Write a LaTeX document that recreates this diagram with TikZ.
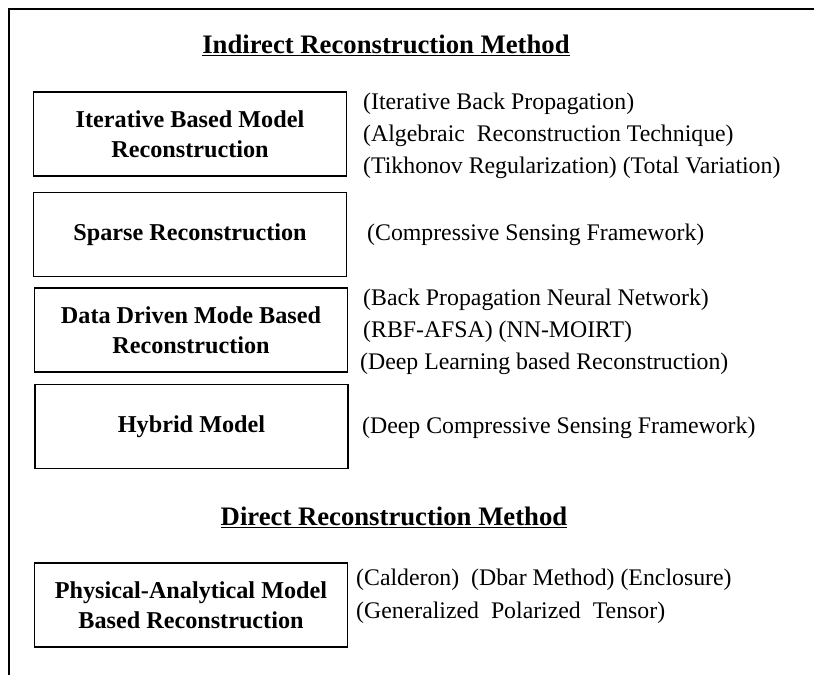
\documentclass[tikz,border=0pt]{standalone}
\usepackage{fontspec}
\setmainfont{Liberation Serif}
\begin{document}
\begin{tikzpicture}[x=1pt,y=-1pt,
  methodbox/.style={draw=black,line width=1.5pt,minimum width=313pt,minimum height=84pt,
    align=center,inner sep=0pt,font=\fontsize{24.2}{30}\selectfont\bfseries},
  item/.style={anchor=west,inner sep=0pt,font=\fontsize{23.8}{32}\selectfont,align=left},
  heading/.style={inner sep=0pt,font=\fontsize{26.7}{30}\selectfont\bfseries}]
\useasboundingbox (0,0) rectangle (814,675);
\draw[line width=1.5pt] (9,675) -- (9,9) -- (814,9);

\node[heading] (h1) at (386,45) {\underline{Indirect Reconstruction Method}};
\node[heading] (h2) at (394,517) {\underline{Direct Reconstruction Method}};

\node[methodbox] (b1) at (190,134) {Iterative Based Model\\Reconstruction};
\node[methodbox] (b2) at (190,234.5) {Sparse Reconstruction};
\node[methodbox] (b3) at (191,330) {Data Driven Mode Based\\Reconstruction};
\node[methodbox] (b4) at (191.5,426.5) {Hybrid Model};
\node[methodbox] (b5) at (191,605) {Physical-Analytical Model\\Based Reconstruction};

\node[item] (t1a) at (363,104) {(Iterative Back Propagation)};
\node[item] (t1b) at (363,136) {(Algebraic\ \ Reconstruction Technique)};
\node[item] (t1c) at (363,168) {(Tikhonov Regularization)\ (Total Variation)};
\node[item] (t2) at (367,235) {(Compressive Sensing Framework)};
\node[item] (t3a) at (363,300) {(Back Propagation Neural Network)};
\node[item] (t3b) at (363,332) {(RBF-AFSA)\ (NN-MOIRT)};
\node[item] (t3c) at (360,364) {(Deep Learning based Reconstruction)};
\node[item] (t4) at (362,428) {(Deep Compressive Sensing Framework)};
\node[item] (t5a) at (356,580) {(Calderon)\ \ (Dbar Method)\ (Enclosure)};
\node[item] (t5b) at (356,613) {(Generalized\ \ Polarized\ \ Tensor)};
\end{tikzpicture}
\end{document}
